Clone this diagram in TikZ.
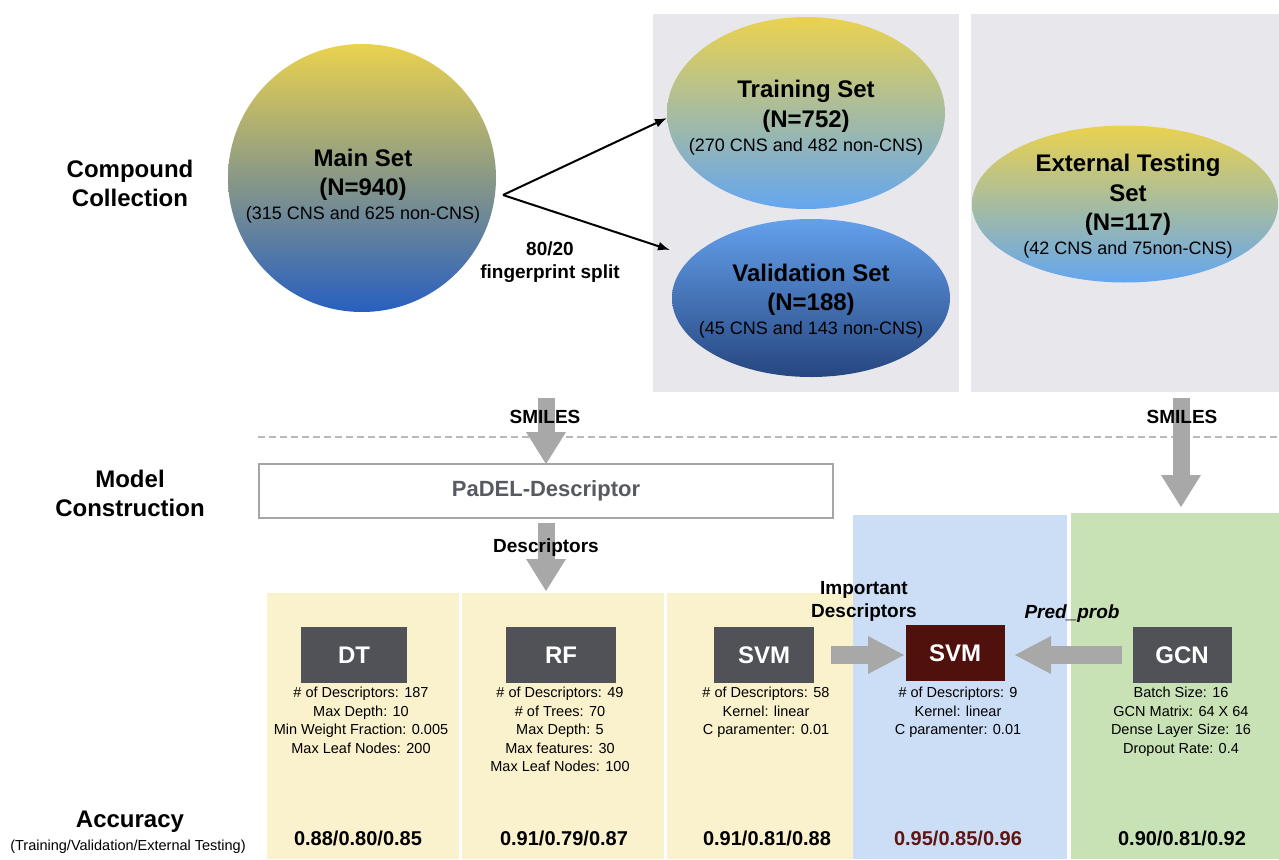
\documentclass[tikz,border=0pt]{standalone}
\usepackage{fontspec}
\setmainfont{Liberation Sans}
\usetikzlibrary{arrows.meta,shapes.geometric}
\definecolor{panelgray}{RGB}{232,232,236}
\definecolor{yelbg}{RGB}{250,241,205}
\definecolor{blubg}{RGB}{204,222,246}
\definecolor{grnbg}{RGB}{200,226,181}
\definecolor{darkbox}{RGB}{80,82,88}
\definecolor{redbox}{RGB}{80,16,12}
\definecolor{redtxt}{RGB}{95,22,18}
\definecolor{fatgray}{RGB}{168,168,168}
\definecolor{dashgray}{RGB}{185,185,185}
\definecolor{yelgrad}{RGB}{234,210,78}
\definecolor{ltblue}{RGB}{100,166,240}
\definecolor{valtop}{RGB}{100,160,236}
\definecolor{midblue}{RGB}{40,95,192}
\definecolor{navy}{RGB}{38,70,128}
\definecolor{padtxt}{RGB}{88,90,98}
\definecolor{padborder}{RGB}{165,165,165}
\newcommand{\subtxt}[1]{{\fontsize{18}{22}\selectfont\mdseries #1}}
\begin{document}
\begin{tikzpicture}[x=1pt,y=-1pt,
  every node/.style={inner sep=0pt, outer sep=0pt},
  sidelabel/.style={font=\fontsize{24}{29}\selectfont\bfseries, align=center},
  settext/.style={font=\fontsize{24}{29.5}\selectfont\bfseries, align=center},
  smalllabel/.style={font=\fontsize{19}{23}\selectfont\bfseries, align=center},
  params/.style={font=\fontsize{14.5}{18.5}\selectfont, align=center, anchor=north},
  algobox/.style={fill=darkbox, text=white, font=\fontsize{24}{24}\selectfont\bfseries, minimum height=56pt},
  acc/.style={font=\fontsize{20}{24}\selectfont\bfseries},
  panel/.style={anchor=north west},
  fatarrow/.style={draw=fatgray, line width=17pt, -{Triangle[length=32pt,width=40pt,line width=0pt]}},
  fathoriz/.style={draw=fatgray, line width=18pt, -{Triangle[length=36pt,width=38pt,line width=0pt]}},
  thinarrow/.style={draw=black, line width=2pt, -{Latex[length=12pt,width=9pt]}},
  dashline/.style={draw=dashgray, line width=2pt, dash pattern=on 7pt off 4pt}
]
\useasboundingbox (0,0) rectangle (1279,859);
\fill[white] (0,0) rectangle (1279,859);

% top panels
\node[panel, fill=panelgray, minimum width=306pt, minimum height=378pt] (pset) at (653,14) {};
\node[panel, fill=panelgray, minimum width=308pt, minimum height=378pt] (pext) at (971,14) {};

% bottom panels
\node[panel, fill=yelbg, minimum width=192pt, minimum height=266pt] (pdt) at (267,593) {};
\node[panel, fill=yelbg, minimum width=202pt, minimum height=266pt] (prf) at (462,593) {};
\node[panel, fill=yelbg, minimum width=186pt, minimum height=266pt] (psvm) at (667,593) {};
\node[panel, fill=blubg, minimum width=214pt, minimum height=344pt] (pblue) at (853,515) {};
\node[panel, fill=grnbg, minimum width=208pt, minimum height=346pt] (pgrn) at (1071,513) {};

% sets
\node[circle, minimum size=268pt, top color=yelgrad, bottom color=midblue] (main) at (362,178) {};
\node[settext] (maintxt) at (363,186) {Main Set\\(N=940)\\[-6pt]\subtxt{(315 CNS and 625 non-CNS)}};

\node[ellipse, minimum width=278pt, minimum height=192pt, top color=yelgrad, bottom color=ltblue] (train) at (806,113) {};
\node[settext] (traintxt) at (806,118) {Training Set\\(N=752)\\[-5pt]\subtxt{(270 CNS and 482 non-CNS)}};

\node[ellipse, minimum width=278pt, minimum height=158pt, top color=valtop, bottom color=navy] (val) at (811,298) {};
\node[settext] (valtxt) at (811,301) {Validation Set\\(N=188)\\[-6pt]\subtxt{(45 CNS and 143 non-CNS)}};

\node[ellipse, minimum width=306pt, minimum height=157pt, top color=yelgrad, bottom color=ltblue] (ext) at (1125,204) {};
\node[settext] (exttxt) at (1128,206) {External Testing\\Set\\(N=117)\\[-6pt]\subtxt{(42 CNS and 75non-CNS)}};

% split arrows
\coordinate (fork) at (503,195);
\coordinate (tipT) at (667,118);
\coordinate (tipV) at (670,250);
\draw[thinarrow] (fork) -- (tipT);
\draw[thinarrow] (fork) -- (tipV);
\node[smalllabel] (split) at (550,262) {80/20\\fingerprint split};

% side labels
\node[sidelabel] (cc) at (130,183) {Compound\\Collection};
\node[sidelabel] (mc) at (130,493) {Model\\Construction};
\node[font=\fontsize{24}{24}\selectfont\bfseries] (accl) at (130,822) {Accuracy};
\node[font=\fontsize{14.5}{17}\selectfont] (accsub) at (128,847) {(Training/Validation/External Testing)};

% dashed separator
\draw[dashline] (258,437) -- (1279,437);

% PaDEL
\node[draw=padborder, line width=2pt, minimum width=574pt, minimum height=54pt, font=\fontsize{22}{22}\selectfont\bfseries, text=padtxt] (pad) at (546,491) {PaDEL-Descriptor};

\coordinate (s1) at (546,398);
\draw[fatarrow] (s1) -- (pad.north);
\node[smalllabel] (sm1) at (545,417) {SMILES};

\coordinate (d1) at (546,523);
\coordinate (d2) at (546,591);
\draw[fatarrow] (d1) -- (d2);
\node[smalllabel] (desc) at (546,548) {Descriptors};

\coordinate (s2) at (1181,398);
\coordinate (s2e) at (1181,507);
\draw[fatarrow] (s2) -- (s2e);
\node[smalllabel] (sm2) at (1182,417) {SMILES};

% algorithm boxes
\node[algobox, minimum width=106pt] (dt) at (354,655) {DT};
\node[algobox, minimum width=110pt] (rf) at (561,655) {RF};
\node[algobox, minimum width=100pt] (svm) at (764,655) {SVM};
\node[algobox, fill=redbox, minimum width=99pt] (svmr) at (955,653) {SVM};
\node[algobox, minimum width=99pt] (gcn) at (1182,655) {GCN};

\node[params] (dtp) at (361,687) {\# of Descriptors: 187\\Max Depth: 10\\Min Weight Fraction: 0.005\\Max Leaf Nodes: 200};
\node[params] (rfp) at (560,687) {\# of Descriptors: 49\\\# of Trees: 70\\Max Depth: 5\\Max features: 30\\Max Leaf Nodes: 100};
\node[params] (svmp) at (766,687) {\# of Descriptors: 58\\Kernel: linear\\C paramenter: 0.01};
\node[params] (svmrp) at (958,687) {\# of Descriptors: 9\\Kernel: linear\\C paramenter: 0.01};
\node[params] (gcnp) at (1181,687) {Batch Size: 16\\GCN Matrix: 64 X 64\\Dense Layer Size: 16\\Dropout Rate: 0.4};

% horizontal arrows
\coordinate (h1) at (831,655);
\coordinate (h1e) at (904,655);
\draw[fathoriz] (h1) -- (h1e);
\coordinate (h2) at (1122,655);
\coordinate (h2e) at (1015,655);
\draw[fathoriz] (h2) -- (h2e);
\node[smalllabel] (imp) at (864,601) {Important\\Descriptors};
\node[font=\fontsize{19}{23}\selectfont\bfseries\itshape] (pp) at (1072,614) {Pred\_prob};

% accuracy values
\node[acc] (a1) at (358,838) {0.88/0.80/0.85};
\node[acc] (a2) at (564,838) {0.91/0.79/0.87};
\node[acc] (a3) at (767,838) {0.91/0.81/0.88};
\node[acc, text=redtxt] (a4) at (958,838) {0.95/0.85/0.96};
\node[acc] (a5) at (1182,838) {0.90/0.81/0.92};
\end{tikzpicture}
\end{document}
